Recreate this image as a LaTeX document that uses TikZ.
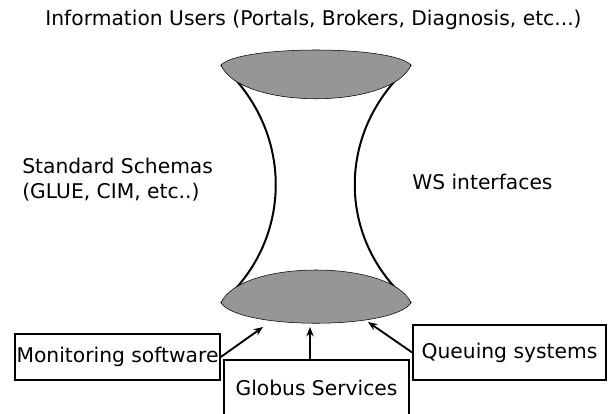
\documentclass[tikz,border=0pt]{standalone}
\usepackage{xcolor}
\usepackage{fontspec}
\setmainfont{DejaVu Sans}
\usepackage{tikz}
\usetikzlibrary{positioning,arrows.meta}
\definecolor{lensgray}{RGB}{150,150,150}

\begin{document}
\begin{tikzpicture}[x=0.75pt, y=-0.75pt,
                font=\fontsize{15.2}{18.75}\selectfont,
                lens/.style={draw=black, fill=lensgray, thin},
                side/.style={draw=black, line width=1.5pt},
                textnode/.style={inner sep=0pt},
                boxnode/.style={rectangle, draw=black, line width=1.2pt, inner sep=0pt},
                arrow/.style={line width=1.4pt,->,>={Stealth[length=7pt,width=5.5pt]}}
                ]
                \useasboundingbox (0,0) rectangle (608,414);
                % hourglass
                \draw[side] (221,65) .. controls (294,130) and (294,240) .. (221,303);
                \draw[side] (411,65) .. controls (336,130) and (336,240) .. (411,303);
                \draw[lens] (221,65) .. controls (240,45) and (392,45) .. (411,65) .. controls (392,110) and (240,110) .. cycle;
                \draw[lens] (221,303) .. controls (240,259) and (392,259) .. (411,303) .. controls (392,330) and (240,330) .. cycle;
                \coordinate (lensLeft) at (263,327);
                \coordinate (lensMid) at (310,327);
                \coordinate (lensRight) at (368,322);
                \node[textnode] (title) at (313.5,20) {Information Users (Portals, Brokers, Diagnosis, etc...)};
                \node[textnode, align=left, anchor=west] (schemas) at (22,180) {Standard Schemas\\(GLUE, CIM, etc..)};
                \node[textnode, anchor=west] (wsInterfaces) at (412,182) {WS interfaces};
                \node[boxnode, minimum width=153.75pt, minimum height=34.5pt] (monitoring) at (117.5,357) {Monitoring software};
                \node[boxnode, line width=2pt, minimum width=138.75pt, minimum height=42pt] (globus) at (316.5,388) {Globus Services};
                \node[boxnode, minimum width=144.75pt, minimum height=41.25pt] (queuing) at (509.5,352.5) {Queuing systems};
                \draw[arrow] (monitoring.east) -- (lensLeft);
                \draw[arrow] (globus.north -| lensMid) -- (lensMid);
                \draw[arrow] (queuing.west) -- (lensRight);
            \end{tikzpicture}
\end{document}
